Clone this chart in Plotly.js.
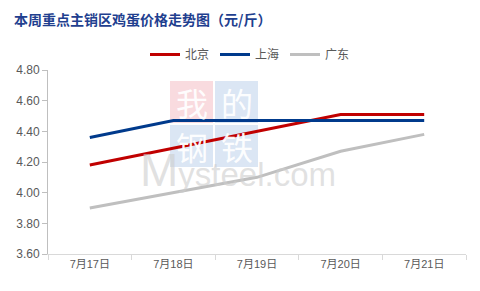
<!DOCTYPE html>
<html>
<head>
<meta charset="utf-8">
<script src="https://cdn.plot.ly/plotly-3.0.1.min.js"></script>
<style>
  html, body { margin: 0; padding: 0; background: #fff; }
  #chart { width: 480px; height: 291px; }
</style>
</head>
<body>
<div id="chart"></div>
<script>
// Weekly egg prices in the main selling regions (yuan per jin)
const dates = ['7月17日', '7月18日', '7月19日', '7月20日', '7月21日'];
const beijing = [4.18, 4.29, 4.40, 4.51, 4.51];
const shanghai = [4.36, 4.47, 4.47, 4.47, 4.47];
const guangdong = [3.90, 4.00, 4.10, 4.27, 4.38];

const seriesNames = ['北京', '上海', '广东'];
const seriesColors = ['#C00000', '#003A8C', '#BFBFBF'];
const seriesValues = [beijing, shanghai, guangdong];

const traces = seriesValues.map((vals, i) => ({
  type: 'scatter',
  mode: 'lines',
  x: dates,
  y: vals,
  name: seriesNames[i],
  line: { color: seriesColors[i], width: 3 },
  hoverinfo: 'x+y+name'
}));

const cjk = '"Noto Sans CJK SC", "Liberation Sans", sans-serif';
const tickFont = { family: '"Liberation Sans", "Noto Sans CJK SC", sans-serif', size: 11, color: '#595959' };

// Site watermark: four tiles with characters, and the domain below
const tiles = [
  { ch: '我', col: 0, row: 0, fill: 'rgba(240,160,170,0.38)' },
  { ch: '的', col: 1, row: 0, fill: 'rgba(160,190,225,0.38)' },
  { ch: '钢', col: 0, row: 1, fill: 'rgba(160,190,225,0.38)' },
  { ch: '铁', col: 1, row: 1, fill: 'rgba(160,190,225,0.38)' }
];
const tileX0 = 170, tileY0 = 81, tileW = 43, tileH = 42, tileGap = 2;
const W = 480, H = 291;

const shapes = tiles.map(t => ({
  type: 'rect', xref: 'paper', yref: 'paper', layer: 'below', line: { width: 0 },
  fillcolor: t.fill,
  x0: 0, x1: 0, y0: 0, y1: 0,
  _px: [tileX0 + t.col * (tileW + tileGap), tileY0 + t.row * (tileH + tileGap)]
}));

const annotations = tiles.map(t => ({
  xref: 'paper', yref: 'paper', showarrow: false,
  text: t.ch,
  xanchor: 'center', yanchor: 'middle',
  font: { family: '"Noto Sans CJK SC", sans-serif', size: 32, color: 'rgba(255,255,255,0.95)' },
  _px: [tileX0 + t.col * (tileW + tileGap) + tileW / 2, tileY0 + t.row * (tileH + tileGap) + tileH / 2]
}));

annotations.push({
  xref: 'paper', yref: 'paper', showarrow: false,
  text: '<span style="font-size:46px">M</span>ysteel.com',
  font: { family: '"Liberation Sans", Arial, sans-serif', size: 33, color: 'rgba(205,205,205,0.6)' },
  xanchor: 'left', yanchor: 'bottom',
  _px: [138, 198]
});

const margin = { l: 48, r: 14, t: 70, b: 37 };
const plotW = W - margin.l - margin.r, plotH = H - margin.t - margin.b;
const toPaperX = px => (px - margin.l) / plotW;
const toPaperY = py => 1 - (py - margin.t) / plotH;

shapes.forEach(s => {
  s.x0 = toPaperX(s._px[0]); s.x1 = toPaperX(s._px[0] + tileW);
  s.y1 = toPaperY(s._px[1]); s.y0 = toPaperY(s._px[1] + tileH);
  delete s._px;
});
annotations.forEach(a => {
  a.x = toPaperX(a._px[0]); a.y = toPaperY(a._px[1]);
  delete a._px;
});

const layout = {
  width: W, height: H,
  margin: margin,
  paper_bgcolor: '#ffffff',
  plot_bgcolor: 'rgba(0,0,0,0)',
  title: {
    text: '<b>本周重点主销区鸡蛋价格走势图（元/斤）</b>',
    font: { family: cjk, size: 14, color: '#1F3F8F' },
    x: 14 / W, xanchor: 'left', xref: 'container',
    y: 1 - 20 / H, yanchor: 'middle', yref: 'container'
  },
  showlegend: true,
  legend: {
    orientation: 'h',
    xref: 'container', yref: 'container',
    x: 145 / W, xanchor: 'left',
    y: 1 - 40 / H, yanchor: 'top',
    font: { family: cjk, size: 12, color: '#595959' },
    entrywidth: 25, entrywidthmode: 'pixels',
    itemwidth: 30,
    bgcolor: 'rgba(0,0,0,0)'
  },
  xaxis: {
    type: 'category',
    range: [-0.5, 4.5],
    showline: true, linecolor: '#D9D9D9', linewidth: 1,
    ticks: 'outside', tickson: 'boundaries', ticklen: 5, tickcolor: '#D9D9D9',
    showgrid: false, zeroline: false,
    tickfont: tickFont,
    fixedrange: true
  },
  yaxis: {
    range: [3.6, 4.8],
    dtick: 0.2, tick0: 3.6,
    tickformat: '.2f',
    showline: true, linecolor: '#BFBFBF', linewidth: 1,
    ticks: 'outside', ticklen: 5, tickcolor: '#BFBFBF',
    showgrid: false, zeroline: false,
    tickfont: { family: '"Liberation Sans", sans-serif', size: 12, color: '#595959' },
    fixedrange: true
  },
  shapes: shapes,
  annotations: annotations
};

Plotly.newPlot('chart', traces, layout, { displayModeBar: false, staticPlot: true });
</script>
</body>
</html>
